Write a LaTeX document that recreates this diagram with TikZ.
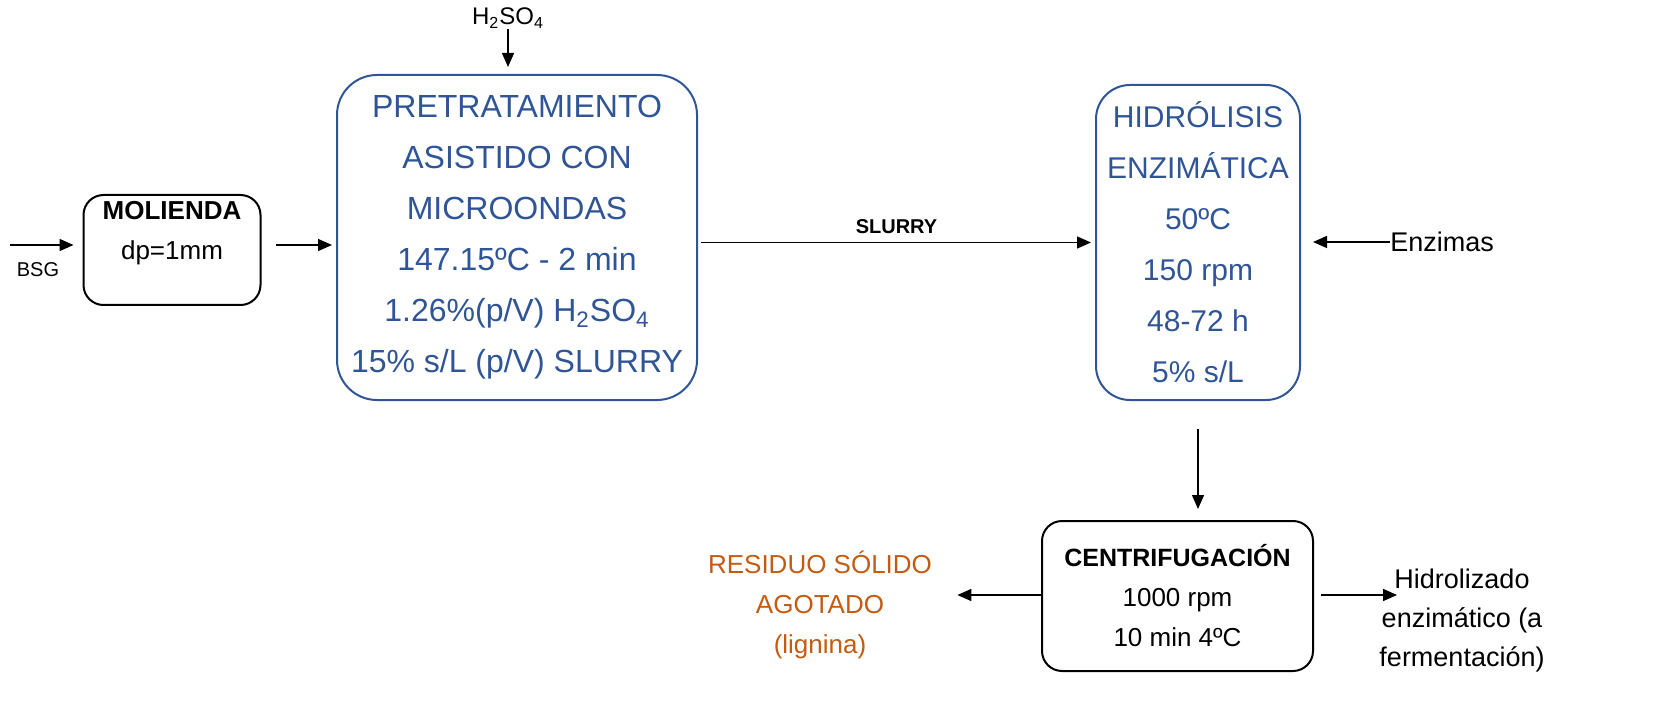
\documentclass[tikz,border=0pt]{standalone}
\usepackage{fontspec}
\setmainfont{Liberation Sans}
\usepackage{xcolor}
\usetikzlibrary{positioning,arrows.meta}
\definecolor{procblue}{HTML}{2F5597}
\definecolor{resorange}{HTML}{C55A11}

\begin{document}
\begin{tikzpicture}[x=0.5pt,y=-0.5pt,
  flow/.style={-{Triangle[length=7pt,width=6pt]},line width=0.75pt},
  blackbox/.style={draw,line width=1pt,rounded corners=10pt,align=center,inner sep=0pt,font=\fontsize{13}{20}\selectfont},
  bluebox/.style={draw=procblue,text=procblue,line width=1pt,rounded corners=20pt,align=center,inner sep=0pt,font=\fontsize{15}{25.5}\selectfont},
  plain/.style={align=center,inner sep=0pt,font=\fontsize{13.5}{19.5}\selectfont}]
  \useasboundingbox (0,0) rectangle (1674,721);
  \node[blackbox,minimum width=88.5pt,minimum height=55pt] (mol) at (172,250) {\textbf{MOLIENDA}\\dp=1mm\\\phantom{x}};
  \node[bluebox,minimum width=180pt,minimum height=162.5pt,font=\fontsize{16}{25.5}\selectfont] (pre) at (517,237.5) {PRETRATAMIENTO\\ASISTIDO CON\\MICROONDAS\\147.15ºC - 2 min\\1.26\%(p/V) H\textsubscript{2}SO\textsubscript{4}\\15\% s/L (p/V) SLURRY};
  \node[bluebox,minimum width=102pt,minimum height=157.5pt,rounded corners=17pt] (hid) at (1198,242.5) {HIDRÓLISIS\\ENZIMÁTICA\\50ºC\\150 rpm\\48-72 h\\5\% s/L};
  \node[blackbox,minimum width=135.5pt,minimum height=75pt] (cen) at (1177.5,596) {\textbf{\fontsize{12.5}{20}\selectfont CENTRIFUGACIÓN}\\1000 rpm\\10 min 4ºC};
  \node[plain,text=resorange,font=\fontsize{13}{20}\selectfont] (res) at (820,605) {RESIDUO SÓLIDO\\AGOTADO\\(lignina)};
  \node[plain] (hidz) at (1462,621) {Hidrolizado\\enzimático (a\\fermentación)};
  \node[plain,anchor=west] (enz) at (1390,242) {Enzimas};
  \node[inner sep=0pt,font=\fontsize{12}{14}\selectfont] (acid) at (508,18) {H\textsubscript{2}SO\textsubscript{4}};
  \node[inner sep=0pt,font=\fontsize{10}{12}\selectfont] (bsg) at (38,270) {BSG};
  \coordinate (feed) at (10,245);
  \coordinate (prod) at (1397,595);
  \draw[flow,shorten >=4.5pt] (feed) -- (feed -| mol.west);
  \draw[flow,shorten <=7pt,shorten >=2pt] ([yshift=2.5pt]mol.east) -- ([yshift=2.5pt]mol.east -| pre.west);
  \draw[flow,shorten <=1.5pt,shorten >=2pt] (pre.east |- hid.west) -- node[above=4pt,inner sep=0pt,font=\fontsize{10}{12}\selectfont\bfseries] (slurry) {SLURRY} (hid.west);
  \draw[flow,shorten >=6pt] (enz.west) -- (enz.west -| hid.east);
  \draw[flow,shorten >=3.5pt] (acid.south) -- (acid.south |- pre.north);
  \draw[flow,shorten <=14pt,shorten >=5.5pt] (hid.south) -- (hid.south |- cen.north);
  \draw[flow,shorten >=12.5pt] ([yshift=0.5pt]cen.west) -- ([yshift=0.5pt]cen.west -| res.east);
  \draw[flow,shorten <=3.5pt] ([yshift=0.5pt]cen.east) -- (prod);
\end{tikzpicture}
\end{document}
